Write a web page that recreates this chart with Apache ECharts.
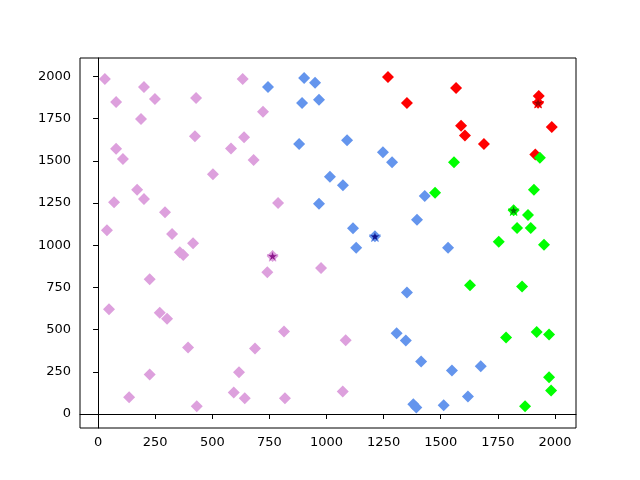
<!DOCTYPE html>
<html>
<head>
<meta charset="utf-8">
<script src="https://cdn.jsdelivr.net/npm/echarts@6/dist/echarts.min.js"></script>
<style>html,body{margin:0;padding:0;background:#fff}#c{width:640px;height:480px}</style>
</head>
<body>
<div id="c"></div>
<script>
const tickValues = [0, 250, 500, 750, 1000, 1250, 1500, 1750, 2000];

const plumPoints = [[30,1985],[201,1937],[79,1848],[249,1866],[429,1872],[633,1985],[188,1747],[722,1790],[424,1646],[639,1640],[79,1571],[109,1510],[582,1573],[681,1504],[503,1421],[171,1328],[201,1274],[70,1255],[788,1250],[293,1195],[39,1088],[324,1066],[416,1011],[358,958],[373,942],[764,936],[741,839],[976,865],[226,798],[48,621],[270,600],[302,564],[814,489],[394,394],[687,388],[226,234],[617,247],[136,99],[594,127],[642,93],[818,93],[432,46],[1084,437],[1071,133]];

const bluePoints = [[744,1937],[902,1990],[950,1963],[893,1842],[967,1862],[880,1599],[1090,1622],[1247,1551],[1287,1492],[1015,1405],[1072,1355],[967,1245],[1430,1292],[1396,1151],[1116,1100],[1212,1053],[1130,985],[1532,985],[1352,720],[1307,479],[1347,436],[1414,311],[1549,257],[1675,283],[1619,103],[1380,58],[1393,38],[1513,52]];

const redPoints = [[1269,1996],[1567,1931],[1352,1842],[1929,1884],[1926,1844],[1986,1700],[1589,1707],[1606,1650],[1689,1599],[1914,1537]];

const greenPoints = [[1934,1518],[1558,1492],[1475,1310],[1908,1328],[1819,1207],[1882,1179],[1834,1102],[1894,1102],[1754,1021],[1952,1003],[1628,762],[1856,756],[1786,453],[1920,485],[1974,471],[1974,218],[1983,139],[1869,46]];

const plumCenter = [[764,936]];
const blueCenter = [[1212,1053]];
const redCenter = [[1926,1844]];
const greenCenter = [[1819,1207]];

const starPath = 'path://M50,0 L61.23,34.55 L97.55,34.55 L68.16,55.9 L79.39,90.45 L50,69.1 L20.61,90.45 L31.84,55.9 L2.45,34.55 L38.77,34.55 Z';

function diamonds(data, color) {
  return {type: 'scatter', data: data, symbol: 'diamond', symbolSize: 12,
    itemStyle: {color: color, opacity: 1}, silent: true, animation: false};
}
function star(data, color, edge) {
  return {type: 'scatter', data: data, symbol: starPath, symbolKeepAspect: true, symbolSize: 11,
    itemStyle: {color: color, opacity: 0.85, borderColor: edge, borderWidth: 1}, silent: true, animation: false, z: 5};
}

const font = {fontFamily: 'DejaVu Sans', fontSize: 13, color: '#000', formatter: function (v) { return String(v); }};

const chart = echarts.init(document.getElementById('c'));
chart.setOption({
  backgroundColor: '#fff',
  animation: false,
  grid: {left: 80, right: 64, top: 58, bottom: 52, show: true, borderColor: '#000', borderWidth: 1, backgroundColor: 'transparent'},
  xAxis: {
    type: 'value', min: -79, max: 2092,
    axisLine: {show: true, lineStyle: {color: '#000', width: 1}},
    axisTick: {show: true, length: 5, lineStyle: {color: '#000'}, customValues: tickValues},
    axisLabel: Object.assign({margin: 8, customValues: tickValues}, font),
    splitLine: {show: false}
  },
  yAxis: {
    type: 'value', min: -83, max: 2109,
    axisLine: {show: true, lineStyle: {color: '#000', width: 1}},
    axisTick: {show: true, length: 5, lineStyle: {color: '#000'}, customValues: tickValues},
    axisLabel: Object.assign({margin: 9, customValues: tickValues}, font),
    splitLine: {show: false}
  },
  series: [
    diamonds(plumPoints, '#DDA0DD'),
    diamonds(bluePoints, '#6495ED'),
    diamonds(redPoints, '#FF0000'),
    diamonds(greenPoints, '#00FF00'),
    star(plumCenter, '#800080', '#DDA0DD'),
    star(blueCenter, '#000080', '#6495ED'),
    star(redCenter, '#8B0000', '#FF0000'),
    star(greenCenter, '#006400', '#00FF00')
  ]
});
</script>
</body>
</html>
